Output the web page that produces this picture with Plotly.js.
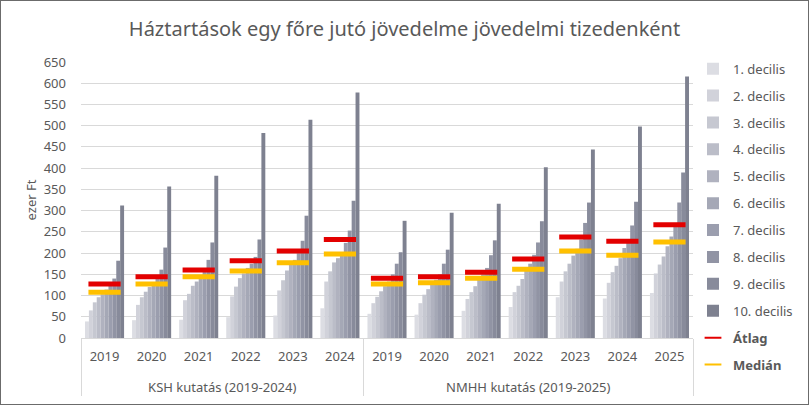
<!DOCTYPE html>
<html>
<head>
<meta charset="utf-8">
<script src="https://cdn.plot.ly/plotly-3.0.1.min.js"></script>
<style>
  html, body { margin: 0; padding: 0; background: #fff; }
  #chart { width: 809px; height: 405px; box-sizing: border-box; border: 1px solid #6b6b6b; }
</style>
</head>
<body>
<div id="chart"></div>
<script>
// two-level category axis: survey / year
const surveys = ['KSH kutatás (2019-2024)', 'KSH kutatás (2019-2024)', 'KSH kutatás (2019-2024)',
  'KSH kutatás (2019-2024)', 'KSH kutatás (2019-2024)', 'KSH kutatás (2019-2024)',
  'NMHH kutatás (2019-2025)', 'NMHH kutatás (2019-2025)', 'NMHH kutatás (2019-2025)',
  'NMHH kutatás (2019-2025)', 'NMHH kutatás (2019-2025)', 'NMHH kutatás (2019-2025)',
  'NMHH kutatás (2019-2025)'];
const years = ['2019', '2020', '2021', '2022', '2023', '2024',
  '2019', '2020', '2021', '2022', '2023', '2024', '2025'];

// ezer Ft
const decile1  = [39, 42, 43, 49, 53, 70,     57, 55, 64, 73, 96, 93, 106];
const decile2  = [65, 78, 89, 98, 112, 133,   82, 82, 92, 108, 133, 130, 152];
const decile3  = [84, 96, 104, 121, 136, 157, 97, 102, 108, 123, 157, 155, 173];
const decile4  = [96, 109, 123, 141, 159, 178, 110, 115, 122, 139, 175, 170, 192];
const decile5  = [103, 120, 133, 152, 173, 188, 122, 126, 137, 161, 194, 188, 216];
const decile6  = [114, 130, 145, 165, 184, 198, 133, 137, 150, 175, 210, 212, 239];
const decile7  = [125, 140, 158, 175, 200, 224, 150, 150, 165, 196, 232, 232, 271];
const decile8  = [140, 161, 184, 191, 229, 253, 175, 175, 195, 225, 271, 265, 319];
const decile9  = [182, 213, 225, 232, 288, 323, 202, 208, 230, 275, 319, 321, 390];
const decile10 = [312, 357, 382, 483, 514, 578, 276, 295, 316, 402, 444, 498, 616];
const mean   = [127, 144, 160, 182, 205, 232, 141, 144, 155, 186, 238, 228, 267];
const median = [108, 127, 144, 158, 177, 198, 127, 130, 141, 162, 205, 195, 226];

const decileNames = ['1. decilis', '2. decilis', '3. decilis', '4. decilis', '5. decilis',
  '6. decilis', '7. decilis', '8. decilis', '9. decilis', '10. decilis'];
const decileValues = [decile1, decile2, decile3, decile4, decile5,
  decile6, decile7, decile8, decile9, decile10];
const decileColors = ['#dcdde3', '#d1d2da', '#c6c8d1', '#bbbdc8', '#b0b2bf',
  '#a5a8b6', '#9b9eae', '#9194a4', '#888b9b', '#7e8190'];

const FONT = 'Noto Sans, Open Sans, sans-serif';
const GREY = '#595959';
// the empty second line on the year labels pushes the survey row down
const x = [surveys, years.map(y => y + '<br> ')];

const traces = decileValues.map((vals, i) => ({
  type: 'bar',
  x: x,
  y: vals,
  name: decileNames[i],
  legendgroup: 'd' + i,
  marker: { color: decileColors[i], line: { width: 0 } },
}));

traces.push({
  type: 'scatter',
  mode: 'markers',
  x: x,
  y: mean,
  name: '<b>Átlag</b>',
  legendgroup: 'mean',
  marker: { symbol: 'line-ew', size: 23, line: { width: 5, color: '#e30000' } },
});
traces.push({
  type: 'scatter',
  mode: 'markers',
  x: x,
  y: median,
  name: '<b>Medián</b>',
  legendgroup: 'median',
  marker: { symbol: 'line-ew', size: 23, line: { width: 5, color: '#ffc000' } },
});

const layout = {
  width: 807,
  height: 403,
  margin: { l: 80, r: 115, t: 61, b: 66, autoexpand: false },
  paper_bgcolor: '#fff',
  plot_bgcolor: '#fff',
  font: { family: FONT, color: GREY, size: 13 },
  title: {
    text: 'Háztartások egy főre jutó jövedelme jövedelmi tizedenként',
    font: { family: FONT, size: 20, color: GREY },
    x: 0.5, xanchor: 'center', y: 0.93, yanchor: 'middle',
  },
  barmode: 'group',
  bargap: 0.17,
  bargroupgap: 0,
  showlegend: true,
  legend: {
    x: 1.0, xanchor: 'left', y: 1.03, yanchor: 'top',
    bgcolor: 'rgba(0,0,0,0)',
    font: { family: FONT, size: 13, color: GREY },
    traceorder: 'grouped',
    tracegroupgap: 7,
    itemwidth: 30,
    itemsizing: 'constant',
    maxheight: 400,
  },
  xaxis: {
    type: 'multicategory',
    range: [-0.5, 12.5],
    automargin: false,
    showgrid: false,
    zeroline: false,
    showline: true,
    linecolor: '#d9d9d9',
    ticks: '',
    ticklabelstandoff: 6,
    showdividers: true,
    dividercolor: '#d9d9d9',
    dividerwidth: 1,
    tickfont: { family: FONT, size: 13, color: GREY },
  },
  yaxis: {
    range: [0, 650],
    automargin: false,
    dtick: 50,
    tick0: 0,
    showgrid: true,
    gridcolor: '#d9d9d9',
    zeroline: false,
    showline: false,
    ticks: '',
    ticklabelstandoff: 14,
    tickfont: { family: FONT, size: 13, color: GREY },
    title: { text: 'ezer Ft', font: { family: FONT, size: 13, color: GREY }, standoff: 4 },
  },
};

Plotly.newPlot('chart', traces, layout, { displayModeBar: false, staticPlot: true });
</script>
</body>
</html>
